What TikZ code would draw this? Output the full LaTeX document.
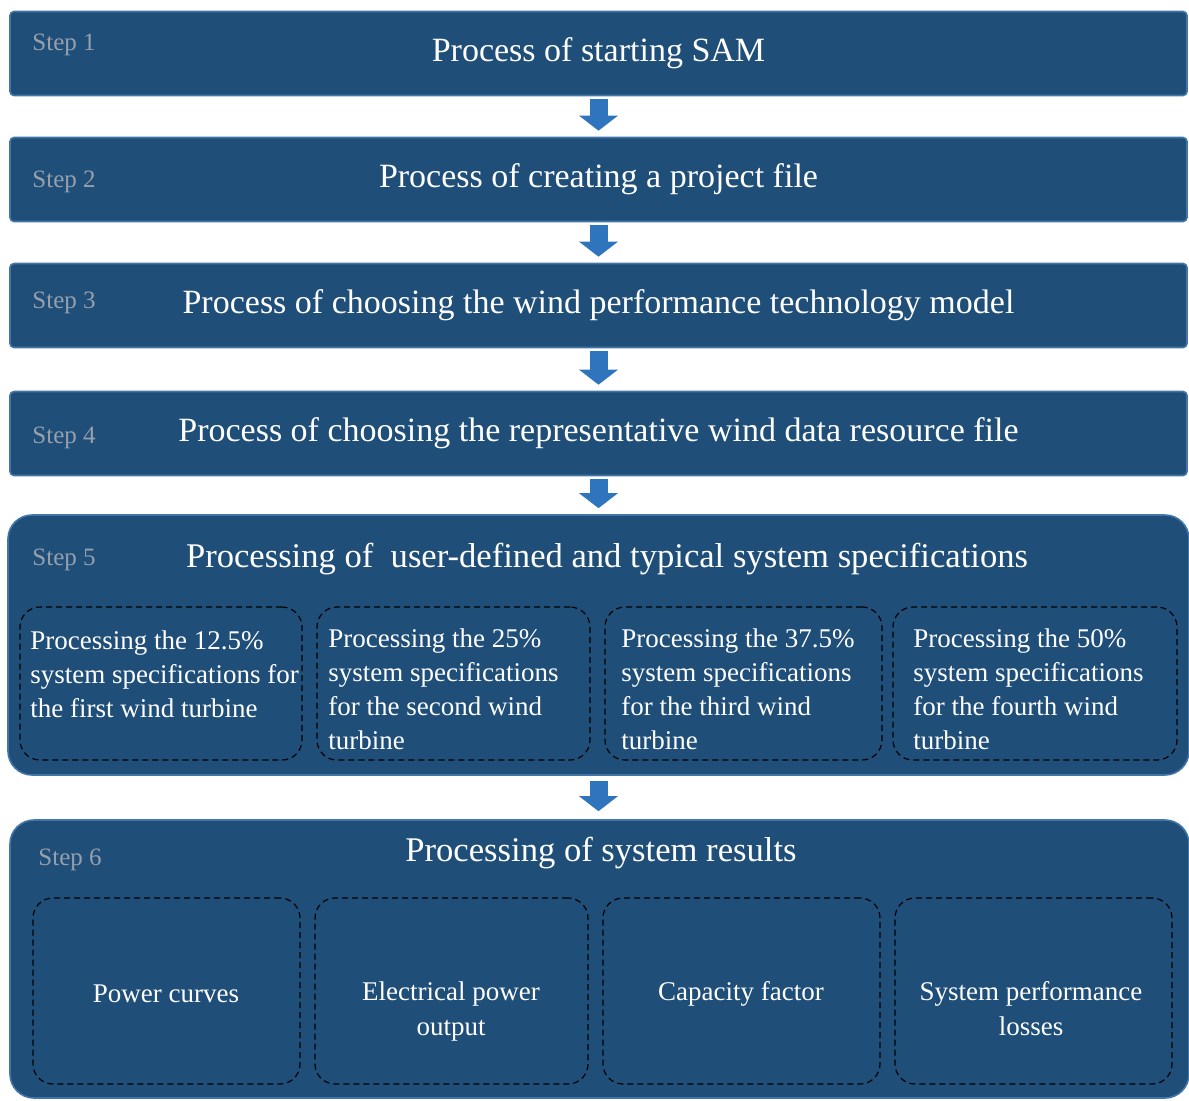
\documentclass[tikz,border=0pt]{standalone}
\usepackage{fontspec}
\setmainfont{Liberation Serif}
\usetikzlibrary{arrows.meta,positioning}
\definecolor{StepBlue}{RGB}{31,78,121}
\definecolor{StepEdge}{RGB}{66,118,170}
\definecolor{StepGray}{RGB}{150,160,172}
\definecolor{ArrowBlue}{RGB}{47,117,190}
\tikzset{
  stepbar/.style={fill=StepBlue,draw=StepEdge,line width=0.8pt,rounded corners=2pt,
    minimum width=588.5pt,minimum height=42pt,inner sep=0pt,text=white,
    font=\fontsize{17}{20}\selectfont},
  stepframe/.style={stepbar,rounded corners=12pt},
  steplabel/.style={anchor=west,inner sep=0pt,text=StepGray,font=\fontsize{12.5}{15}\selectfont},
  steptitle/.style={inner sep=0pt,text=white,font=\fontsize{17.3}{20}\selectfont},
  specbox/.style={draw=black,dash pattern=on 3pt off 2pt,line width=0.6pt,rounded corners=10pt,
    inner sep=0pt},
  spectext/.style={anchor=north west,align=left,inner sep=0pt,text=white,
    font=\fontsize{13.5}{17}\selectfont},
  resulttext/.style={align=center,inner sep=0pt,text=white,font=\fontsize{13.5}{17.5}\selectfont},
  flowarrow/.style={draw=ArrowBlue,line width=9pt,-{Triangle[length=7.5pt,width=19pt]},
    shorten <=1.5pt,shorten >=3pt}
}
\begin{document}
\begin{tikzpicture}[x=0.5pt,y=-0.5pt]
  \useasboundingbox (0,0) rectangle (1189,1100);
  % steps 1-4
  \node[stepbar] (s1) at (598.5,53.5) {Process of starting SAM};
  \node[stepbar] (s2) at (598.5,179.5) {Process of creating a project file};
  \node[stepbar] (s3) at (598.5,305.5) {Process of choosing the wind performance technology model};
  \node[stepbar] (s4) at (598.5,433.5) {Process of choosing the representative wind data resource file};
  \node[steplabel] (l1) at (32,45) {Step 1};
  \node[steplabel] (l2) at (32,182) {Step 2};
  \node[steplabel] (l3) at (32,303) {Step 3};
  \node[steplabel] (l4) at (32,438) {Step 4};
  % step 5
  \node[stepframe,minimum width=590.5pt,minimum height=130pt] (s5) at (598.5,645) {};
  \node[steplabel] (l5) at (32,560) {Step 5};
  \node[steptitle] (t5) at (607,559) {Processing of \ user-defined and typical system specifications};
  \node[specbox,minimum width=141pt,minimum height=76.5pt] (b1) at (161,683.5) {};
  \node[specbox,minimum width=136.5pt,minimum height=76.5pt] (b2) at (453.5,683.5) {};
  \node[specbox,minimum width=138.5pt,minimum height=76.5pt] (b3) at (743.5,683.5) {};
  \node[specbox,minimum width=142pt,minimum height=76.5pt] (b4) at (1035,683.5) {};
  \node[spectext] (p1) at (30,630) {Processing the 12.5\%\\system specifications for\\the first wind turbine};
  \node[spectext] (p2) at (328,628) {Processing the 25\%\\system specifications\\for the second wind\\turbine};
  \node[spectext] (p3) at (621,628) {Processing the 37.5\%\\system specifications\\for the third wind\\turbine};
  \node[spectext] (p4) at (913,628) {Processing the 50\%\\system specifications\\for the fourth wind\\turbine};
  % step 6
  \node[stepframe,minimum width=589.5pt,minimum height=139pt] (s6) at (599.5,959) {};
  \node[steplabel] (l6) at (38,860) {Step 6};
  \node[steptitle] (t6) at (601,853) {Processing of system results};
  \node[specbox,minimum width=133.5pt,minimum height=93pt] (r1) at (166.5,991) {};
  \node[specbox,minimum width=136.5pt,minimum height=93pt] (r2) at (451.5,991) {};
  \node[specbox,minimum width=138.5pt,minimum height=93pt] (r3) at (741.5,991) {};
  \node[specbox,minimum width=138.5pt,minimum height=93pt] (r4) at (1033.5,991) {};
  \node[resulttext] (o1) at (166,994) {Power curves};
  \node[resulttext] (o2) at (451,1011) {Electrical power\\output};
  \node[resulttext] (o3) at (741,994) {Capacity factor};
  \node[resulttext] (o4) at (1031,1009) {System performance\\losses};
  % arrows
  \foreach \a/\b in {s1/s2,s2/s3,s3/s4,s4/s5}
    \draw[flowarrow] (\a) -- (\b);
  \draw[flowarrow,shorten <=2.5pt,shorten >=4pt] (s5.south) -- (s5.south |- s6.north);
\end{tikzpicture}
\end{document}
